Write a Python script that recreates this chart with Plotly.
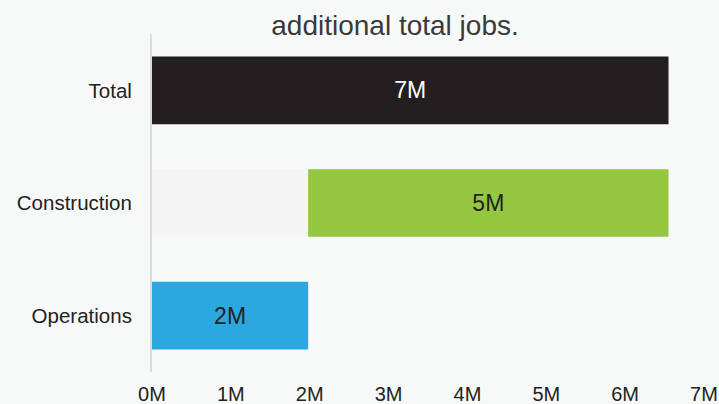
import plotly.graph_objects as go

categories = ["Total", "Construction", "Operations"]
values = [6.55, 4.57, 1.98]          # millions of jobs
offsets = [0, 1.98, 0]               # where each bar starts (waterfall base)
tick_vals = [0, 1, 2, 3, 4, 5, 6, 7]
tick_text = [f"{v}M" for v in tick_vals]
bar_colors = ["#231f20", "#95c840", "#2aa8e0"]
label_colors = ["#ffffff", "#222222", "#222222"]

FONT = "Liberation Sans, Arial, sans-serif"

fig = go.Figure()
# ghost base segment
fig.add_trace(go.Bar(
    y=categories, x=offsets, orientation="h",
    marker=dict(color="#f4f4f4", line=dict(width=0)),
    hoverinfo="skip", showlegend=False,
))
fig.add_trace(go.Bar(
    y=categories, x=values, base=offsets, orientation="h",
    marker=dict(color=bar_colors, line=dict(width=0)),
    text=[f"{round(v)}M" for v in values],
    textposition="inside", insidetextanchor="middle",
    textfont=dict(family=FONT, size=23, color=label_colors),
    showlegend=False,
))

fig.update_layout(
    width=719, height=404,
    margin=dict(l=152, r=15, t=34, b=32, autoexpand=False),
    paper_bgcolor="#f7f9f8", plot_bgcolor="#f7f9f8",
    barmode="overlay", bargap=0.4,
    font=dict(family=FONT, size=20, color="#222222"),
    title=dict(text="additional total jobs.", x=395/719, xref="container", xanchor="center",
               y=1 - 25/404, yanchor="middle",
               font=dict(family=FONT, size=28, color="#3a3a3a")),
    xaxis=dict(range=[0, 7], tickvals=tick_vals, ticktext=tick_text, automargin=False,
               showgrid=False, zeroline=False, showline=False,
               tickfont=dict(size=20, color="#222222"), ticklabelstandoff=8),
    yaxis=dict(categoryorder="array", categoryarray=categories, autorange="reversed",
               automargin=False,
               showgrid=False, zeroline=False, showline=True, linecolor="#dcdcdc", linewidth=2,
               tickfont=dict(size=20.5, color="#222222"), ticklabelstandoff=14),
)

fig.write_html("out.html")
